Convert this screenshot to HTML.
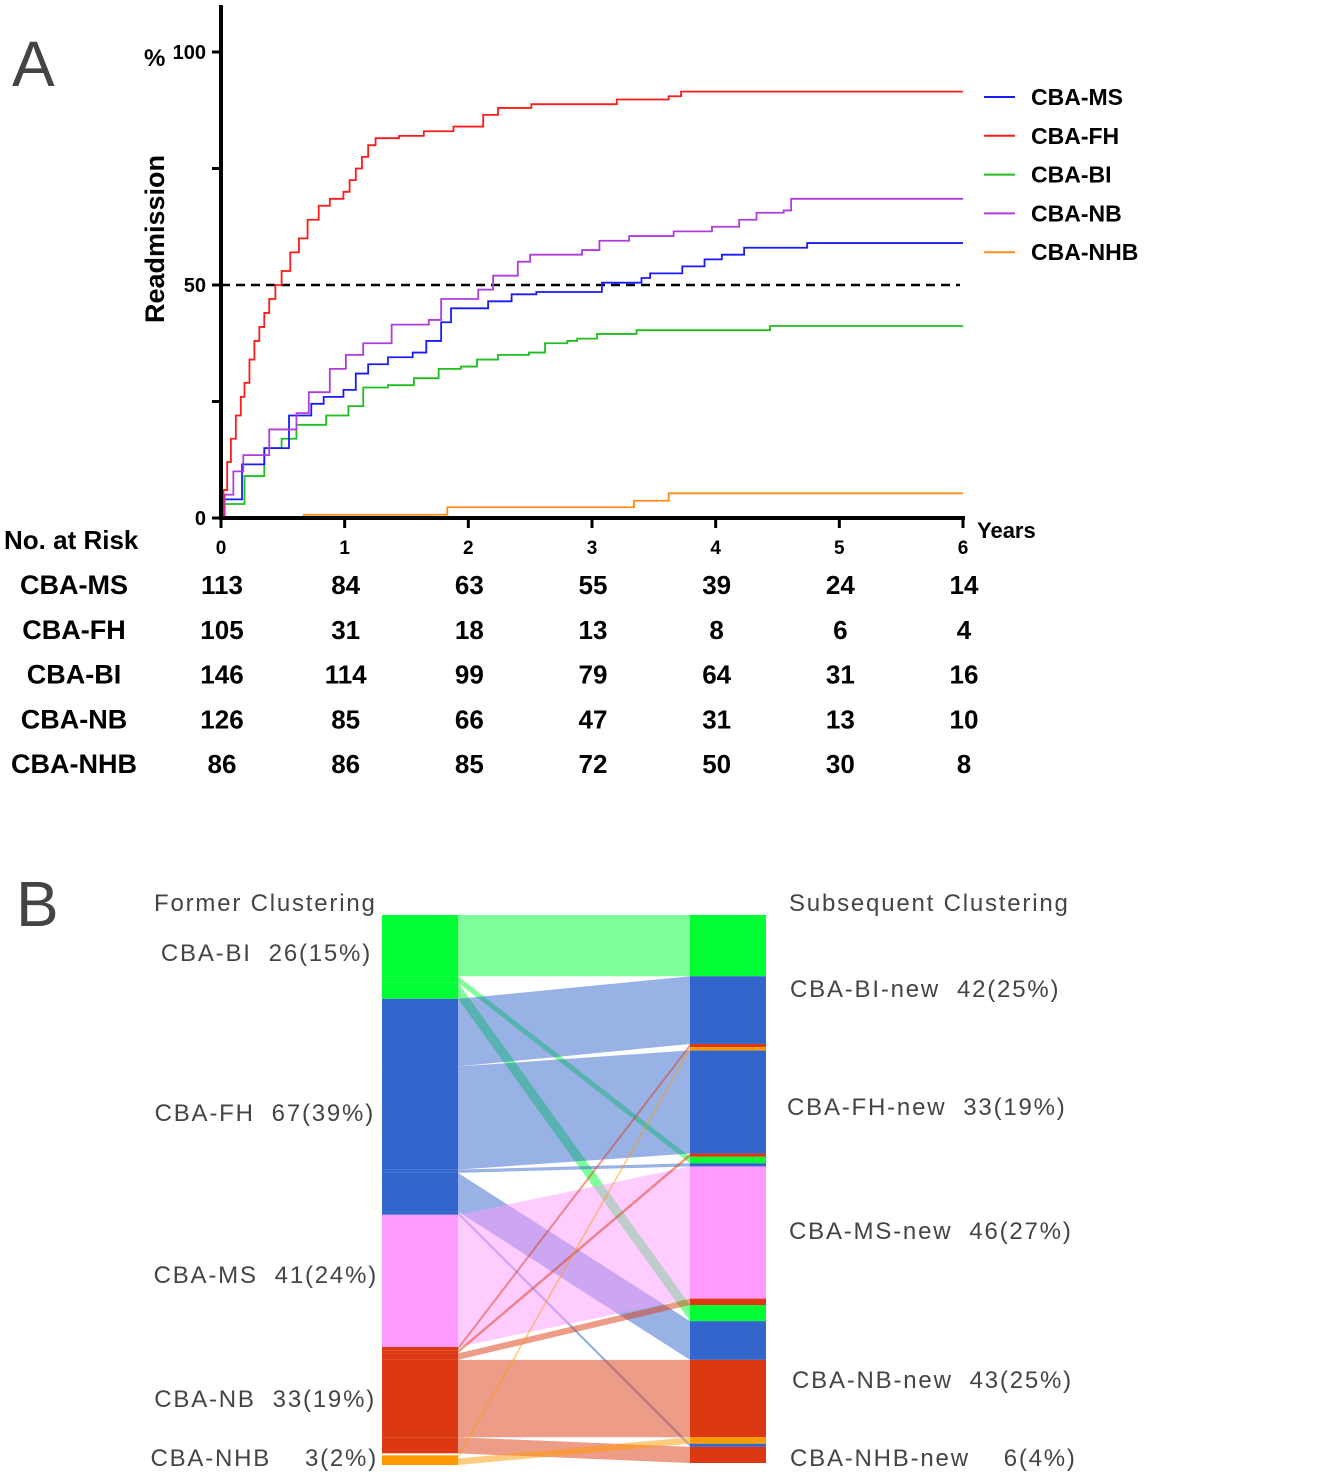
<!DOCTYPE html>
<html><head><meta charset="utf-8"><style>
body{margin:0;background:#fff;width:1341px;height:1477px;overflow:hidden}
svg{display:block}
.b{font-family:"Liberation Sans",sans-serif;font-weight:bold;fill:#000}
.g{font-family:"Liberation Sans",sans-serif;fill:#444;font-size:24px;white-space:pre;letter-spacing:1.8px}
</style></head><body>
<svg id="s" width="1341" height="1477">
<text x="12" y="86" font-family="Liberation Sans" font-size="64" fill="#444">A</text>
<text x="16" y="926" font-family="Liberation Sans" font-size="64" fill="#444">B</text>
<g id="km"></g>
<g id="sk"></g>
</svg>
<script>
const NS="http://www.w3.org/2000/svg";
function mk(p,t,a){const e=document.createElementNS(NS,t);for(const k in a)e.setAttribute(k,a[k]);p.appendChild(e);return e;}
// ---- KM data ----
const seriesNames=["CBA-MS","CBA-FH","CBA-BI","CBA-NB","CBA-NHB"];
const seriesColors=["#1a1aff","#ff1a1a","#1fbf1f","#b03ce0","#ff8c1a"];
const msT=[0,0.02,0.17,0.35,0.55,0.73,0.83,0.99,1.09,1.19,1.35,1.55,1.66,1.78,1.86,2.16,2.35,2.55,3.08,3.4,3.47,3.73,3.91,4.05,4.23,4.74,6];
const msV=[0,4,11.5,15,22,24.5,26,27.5,31,33,34.5,35.5,38,42,45,46.5,48,48.5,50.5,51.5,52.5,54,55.5,56.5,58,59,59];
const fhT=[0,0.02,0.05,0.08,0.12,0.16,0.19,0.23,0.27,0.31,0.35,0.39,0.44,0.49,0.56,0.63,0.7,0.79,0.88,0.99,1.04,1.09,1.14,1.19,1.25,1.44,1.64,1.88,2.12,2.24,2.51,3.2,3.62,3.72,6];
const fhV=[0,6,12,17,22,26,29,34,38,41,44,47,50,53,57,60,64,67,68.5,70,72.5,75,77.5,80,81.5,82,83,84,86.5,88,88.8,89.8,90.5,91.5,91.5];
const biT=[0,0.02,0.19,0.35,0.49,0.61,0.85,1.03,1.15,1.35,1.56,1.76,1.94,2.07,2.24,2.49,2.62,2.8,2.88,3.04,3.36,4.44,6];
const biV=[0,3,9,15,17,20,22,24,28,28.5,30,32,32.5,34,35,35.5,37.5,38,38.5,39.5,40.3,41.2,41.2];
const nbT=[0,0.03,0.1,0.18,0.39,0.61,0.71,0.88,1.01,1.15,1.38,1.68,1.78,2.08,2.2,2.4,2.5,2.92,3.06,3.3,3.66,3.97,4.19,4.33,4.55,4.61,6];
const nbV=[0,5,10,13.5,19,22.5,27,32,35,37.5,41.5,42.5,47,49,52,55,56.5,57.5,59.5,60.5,61.5,62.5,64,65.5,66,68.5,68.5];
const nhbT=[0,0.67,1.83,3.34,3.62,6];
const nhbV=[0,0.7,2.3,3.7,5.3,5.3];
const xTicks=[0,1,2,3,4,5,6];
const yTicks=[0,25,50,75,100];
const yTickLabels=["0","","50","","100"];
const riskRows=[[113,84,63,55,39,24,14],[105,31,18,13,8,6,4],[146,114,99,79,64,31,16],[126,85,66,47,31,13,10],[86,86,85,72,50,30,8]];
// ---- Sankey data ----
const leftNodes=["BI","FH","MS","NB","NHB"];
const leftCounts=[26,67,41,33,3];
const flowSrc=["BI","BI","BI","FH","FH","FH","FH","FH","MS","NB","NB","NB","NB","NB","NHB","NHB"];
const flowTgt=["BI","FH","MS","BI","FH","MS","NB","NB","MS","BI","FH","MS","NB","NB","BI","NB"];
const flowVal=[19,2,5,21,32,1,12,1,41,1,1,2,24,5,1,2];
const rightOrder=[0,3,9,14, 4,10,1, 5,8,11,2,6, 12,15,7,13];

(function(){
const X=t=>221+t*(963-221)/6, Y=v=>518-v*4.66;
const km=document.getElementById('km');
const dl=mk(km,'line',{x1:221,x2:960,y1:Y(50),y2:Y(50),stroke:'#000','stroke-width':2.5,'stroke-dasharray':'9,6'});


const allT=[msT,fhT,biT,nbT,nhbT], allV=[msV,fhV,biV,nbV,nhbV];
[4,2,0,3,1].forEach(i=>{const T=allT[i],V=allV[i];let d=`M${X(T[0])},${Y(V[0])}`;
 for(let k=1;k<T.length;k++){d+=`H${X(T[k])}V${Y(V[k])}`;}
 const p=mk(km,'path',{d,fill:'none',stroke:seriesColors[i],'stroke-width':1.8});
 
 });
mk(km,'line',{x1:221,x2:221,y1:5,y2:520,stroke:'#000','stroke-width':4});
mk(km,'line',{x1:219,x2:965,y1:518,y2:518,stroke:'#000','stroke-width':4});
yTicks.forEach((v,i)=>{mk(km,'line',{x1:212,x2:221,y1:Y(v),y2:Y(v),stroke:'#000','stroke-width':3});
 const t=mk(km,'text',{x:206,y:Y(v)+7,'text-anchor':'end',class:'b','font-size':20});t.textContent=yTickLabels[i];
 
 });
xTicks.forEach(v=>{mk(km,'line',{x1:X(v),x2:X(v),y1:518,y2:528,stroke:'#000','stroke-width':3});
 const t=mk(km,'text',{x:X(v),y:554,'text-anchor':'middle',class:'b','font-size':19});t.textContent=v;
 
 });
let t=mk(km,'text',{x:144,y:66,class:'b','font-size':24});t.textContent='%';
t=mk(km,'text',{x:164,y:239,class:'b','font-size':27,'text-anchor':'middle',transform:'rotate(-90 164 239)'});t.textContent='Readmission';


t=mk(km,'text',{x:977,y:538,class:'b','font-size':22});t.textContent='Years';


[0,1,2,3,4].forEach((i,r)=>{const y=97+r*38.8;
 mk(km,'line',{x1:984,x2:1015,y1:y,y2:y,stroke:seriesColors[i],'stroke-width':2});
 const l=mk(km,'text',{x:1031,y:y+8,class:'b','font-size':23});l.textContent=seriesNames[i];
 
 });
t=mk(km,'text',{x:4,y:549,class:'b','font-size':26});t.textContent='No. at Risk';
riskRows.forEach((row,r)=>{const y=594+r*44.8;
 const n=mk(km,'text',{x:74,y,class:'b','font-size':27,'text-anchor':'middle'});n.textContent=seriesNames[r];
 
 
 row.forEach((v,c)=>{const e=mk(km,'text',{x:X(xTicks[c])+1,y,class:'b','font-size':26,'text-anchor':'middle'});e.textContent=v;
 
 });});

const nodeColors={BI:"#00ff33",FH:"#3366cc",MS:"#ff99ff",NB:"#dc3912",NHB:"#ff9900"};
const leftGaps=[0,0,0,0,2];
const sk=document.getElementById('sk');
const sTop=915,S=548/170,L0=382,L1=458,R0=690,R1=766;
const ly=[],ry=[];
let y=sTop,prev=null;
flowSrc.forEach((s,i)=>{if(s!==prev){y+=leftGaps[leftNodes.indexOf(s)];prev=s;}ly[i]=y;y+=flowVal[i]*S;});
y=sTop;rightOrder.forEach(i=>{ry[i]=y;y+=flowVal[i]*S;});
flowSrc.forEach((s,i)=>{const h=flowVal[i]*S;
 const p=mk(sk,'polygon',{points:`${L1},${ly[i]} ${R0},${ry[i]} ${R0},${ry[i]+h} ${L1},${ly[i]+h}`,fill:nodeColors[s],'fill-opacity':0.5});
 
 
 const a=mk(sk,'rect',{x:L0,y:ly[i],width:L1-L0,height:h,fill:nodeColors[s]});
 
 
 const b=mk(sk,'rect',{x:R0,y:ry[i],width:R1-R0,height:h,fill:nodeColors[s]});
 
 });
const lefLabels=[["Former Clustering",154,911,'start'],["CBA-BI  26(15%)",372,961,'end'],["CBA-FH  67(39%)",375,1121,'end'],["CBA-MS  41(24%)",378,1283,'end'],["CBA-NB  33(19%)",376,1407,'end'],["CBA-NHB    3(2%)",378,1466,'end']];
const rightLabels=[["Subsequent Clustering",789,911],["CBA-BI-new  42(25%)",790,997],["CBA-FH-new  33(19%)",787,1115],["CBA-MS-new  46(27%)",789,1239],["CBA-NB-new  43(25%)",792,1388],["CBA-NHB-new    6(4%)",790,1466]];
lefLabels.forEach(l=>{const e=mk(sk,'text',{x:l[1],y:l[2],class:'g','text-anchor':l[3]});e.textContent=l[0];
 
 });
rightLabels.forEach(l=>{const e=mk(sk,'text',{x:l[1],y:l[2],class:'g'});e.textContent=l[0];
 
 });
})();
</script>
</body></html>
